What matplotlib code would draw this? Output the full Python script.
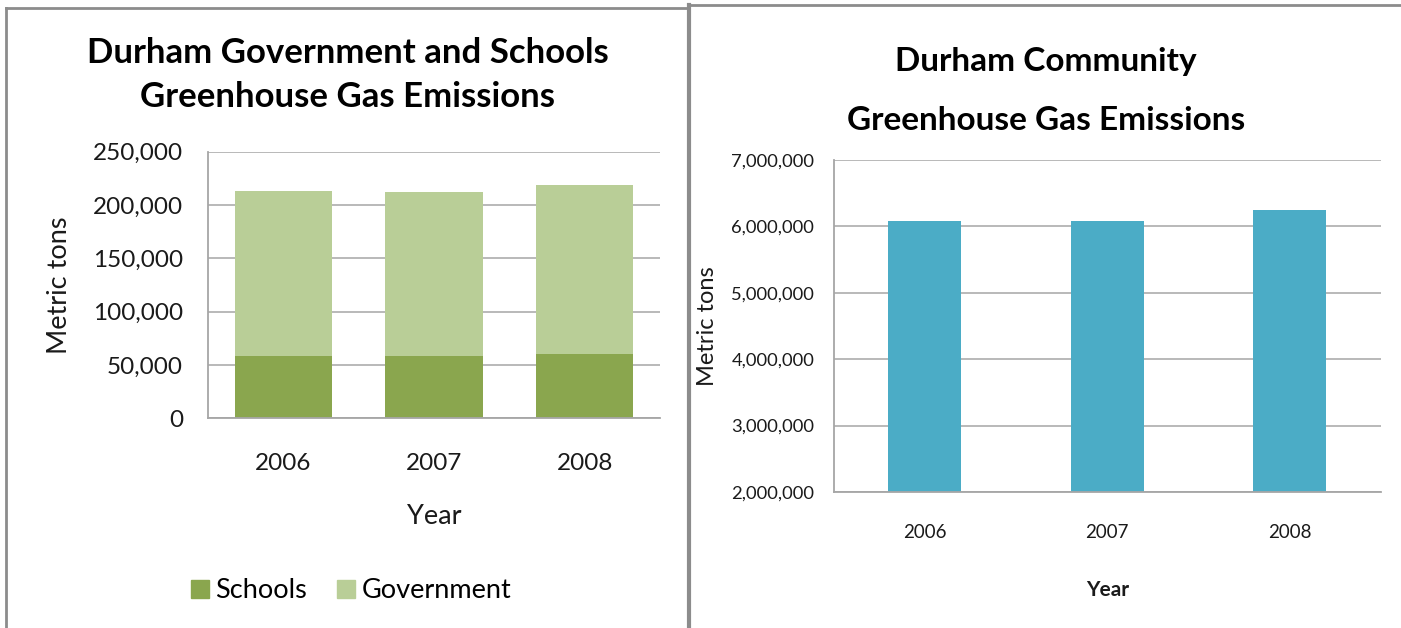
import matplotlib
matplotlib.use('Agg')
import matplotlib.pyplot as plt
from matplotlib.lines import Line2D
from matplotlib.patches import Patch
from matplotlib.ticker import FuncFormatter

# ── Data ─────────────────────────────────────────────────────────
years = ['2006', '2007', '2008']
schools = [58700, 58700, 60300]
government = [154800, 153600, 158300]
community = [6086000, 6080000, 6240000]

W, H = 1401, 628
COL_SCHOOLS = '#8aa64e'
COL_GOV = '#b9ce97'
COL_COMM = '#4bacc6'
COL_GRID = '#a6a6a6'
COL_BORDER = '#8c8c8c'

plt.rcParams['font.family'] = ['Lato', 'DejaVu Sans']


def fx(px):
    return px / W


def fy(py):
    return 1 - py / H


def style_axes(ax):
    for s in ('top', 'right'):
        ax.spines[s].set_visible(False)
    for s in ('left', 'bottom'):
        ax.spines[s].set_color(COL_GRID)
        ax.spines[s].set_linewidth(1.3)
    ax.yaxis.grid(True, color=COL_GRID, lw=1.1)
    ax.set_axisbelow(True)
    ax.tick_params(length=0)


comma = FuncFormatter(lambda v, p: f'{int(v):,}')

fig = plt.figure(figsize=(W / 100, H / 100), dpi=100)

# ── Left panel: government + schools ─────────────────────────────
ax1 = fig.add_axes([fx(208), fy(418.3), fx(660 - 208), (418.3 - 151.8) / H])
x = range(len(years))
ax1.bar(x, schools, width=0.645, color=COL_SCHOOLS, label='Schools')
ax1.bar(x, government, width=0.645, bottom=schools, color=COL_GOV,
        label='Government')
ax1.set_xlim(-0.5, 2.5)
ax1.set_ylim(0, 250000)
ax1.set_yticks(range(0, 250001, 50000))
ax1.yaxis.set_major_formatter(comma)
ax1.set_xticks(list(x))
ax1.set_xticklabels(years)
style_axes(ax1)
ax1.tick_params(axis='y', labelsize=17.5, pad=18, labelcolor='#1a1a1a')
ax1.tick_params(axis='x', labelsize=17.5, pad=25, labelcolor='#1a1a1a')

fig.text(fx(348), fy(53), 'Durham Government and Schools', ha='center',
         va='center', fontsize=25, fontweight='bold')
fig.text(fx(348), fy(97), 'Greenhouse Gas Emissions', ha='center',
         va='center', fontsize=25, fontweight='bold')
fig.text(fx(60), fy(285), 'Metric tons', rotation=90, ha='center',
         va='center', fontsize=19.5, color='#1a1a1a')
fig.text(fx(434), fy(516), 'Year', ha='center', va='center', fontsize=19.5,
         color='#1a1a1a')

handles = [Patch(color=COL_SCHOOLS, label='Schools'),
           Patch(color=COL_GOV, label='Government')]
fig.legend(handles=handles, loc='center', bbox_to_anchor=(fx(351), fy(591)),
           ncol=2, frameon=False, fontsize=19.5, handlelength=0.65,
           handleheight=0.65, handletextpad=0.25, columnspacing=1.1,
           borderpad=0)

# ── Right panel: community ───────────────────────────────────────
ax2 = fig.add_axes([fx(833.7), fy(492), fx(1380.7 - 833.7), (492 - 160) / H])
ax2.bar(x, community, width=0.40, color=COL_COMM)
ax2.set_xlim(-0.5, 2.5)
ax2.set_ylim(2000000, 7000000)
ax2.set_yticks(range(2000000, 7000001, 1000000))
ax2.yaxis.set_major_formatter(comma)
ax2.set_xticks(list(x))
ax2.set_xticklabels(years)
style_axes(ax2)
ax2.tick_params(axis='y', labelsize=13.2, pad=14, labelcolor='#1a1a1a')
ax2.tick_params(axis='x', labelsize=13.5, pad=23, labelcolor='#1a1a1a')

fig.text(fx(1046), fy(62), 'Durham Community', ha='center', va='center',
         fontsize=24, fontweight='bold')
fig.text(fx(1046), fy(120), 'Greenhouse Gas Emissions', ha='center',
         va='center', fontsize=24, fontweight='bold')
fig.text(fx(708), fy(326), 'Metric tons', rotation=90, ha='center',
         va='center', fontsize=17, color='#1a1a1a')
fig.text(fx(1108), fy(590), 'Year', ha='center', va='center', fontsize=15,
         fontweight='bold', color='#1a1a1a')

# ── Panel borders ────────────────────────────────────────────────
borders = [
    ((6, 6), (8, 628), 2.0),
    ((6, 689), (8, 8), 2.0),
    ((689, 689), (5, 628), 3.0),
    ((689, 1401), (5, 5), 2.0),
]
for xs, ys, lw in borders:
    fig.add_artist(Line2D([fx(v) for v in xs], [fy(v) for v in ys],
                          color=COL_BORDER, lw=lw))

fig.savefig('out.png', dpi=100, facecolor='white')
